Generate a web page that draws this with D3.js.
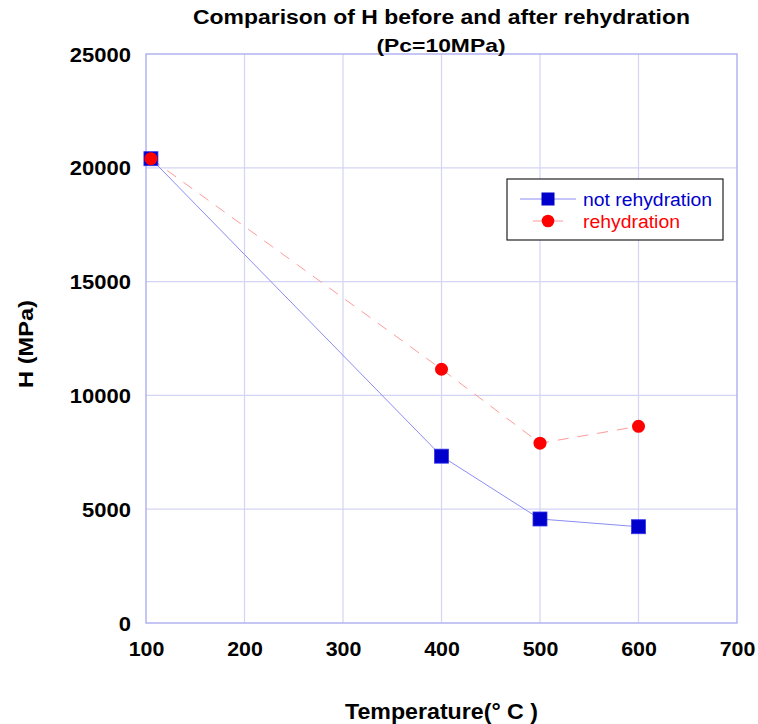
<!DOCTYPE html>
<html><head><meta charset="utf-8">
<script src="https://cdn.jsdelivr.net/npm/d3@7"></script>
<style>body{margin:0;background:#fff;} svg{display:block;font-family:"Liberation Sans",Arial,sans-serif;}</style>
</head><body>
<svg id="c" width="758" height="724"></svg>
<script>
const temps = [105, 400, 500, 600];
const notRehydration = [20400, 7330, 4570, 4230];
const rehydration = [20400, 11150, 7900, 8640];
const xTicks = [100, 200, 300, 400, 500, 600, 700];
const yTicks = [0, 5000, 10000, 15000, 20000, 25000];
const seriesNames = ["not rehydration", "rehydration"];

const svg = d3.select("#c");
const L = 146, R = 737, T = 54, B = 623;
const x = d3.scaleLinear().domain([100, 700]).range([L, R]);
const y = d3.scaleLinear().domain([0, 25000]).range([B, T]);
const gridC = "#d4d4f4", borderC = "#a8a8ee";

function stretch(sel, k) {
  sel.each(function() {
    const w = this.getComputedTextLength();
    d3.select(this).attr("textLength", w * k).attr("lengthAdjust", "spacingAndGlyphs");
  });
}
function fitW(sel, w) {
  sel.attr("textLength", w).attr("lengthAdjust", "spacingAndGlyphs");
}

// grid
svg.append("g").selectAll("line").data(xTicks.slice(1, -1)).join("line")
  .attr("x1", d => x(d)).attr("x2", d => x(d)).attr("y1", T).attr("y2", B)
  .attr("stroke", gridC).attr("stroke-width", 1.2);
svg.append("g").selectAll("line").data(yTicks.slice(1, -1)).join("line")
  .attr("y1", d => y(d)).attr("y2", d => y(d)).attr("x1", L).attr("x2", R)
  .attr("stroke", gridC).attr("stroke-width", 1.2);
svg.append("rect").attr("x", L).attr("y", T).attr("width", R - L).attr("height", B - T)
  .attr("fill", "none").attr("stroke", borderC).attr("stroke-width", 1.3);

// axes
const xa = svg.append("g").attr("transform", `translate(0,${B})`)
  .call(d3.axisBottom(x).tickValues(xTicks).tickSize(0).tickPadding(0).tickFormat(d3.format("d")));
const ya = svg.append("g").attr("transform", `translate(${L},0)`)
  .call(d3.axisLeft(y).tickValues(yTicks).tickSize(0).tickPadding(15).tickFormat(d3.format("d")));
[xa, ya].forEach(a => {
  a.select(".domain").remove();
  a.selectAll("text").attr("font-size", 20).attr("font-weight", "bold").attr("fill", "#000")
    .attr("font-family", "Liberation Sans, Arial, sans-serif");
});
xa.selectAll("text").attr("y", 0).attr("dy", 33);
ya.selectAll("text").attr("dy", 7);
stretch(xa.selectAll("text"), 1.07);
stretch(ya.selectAll("text"), 1.1);

// titles
fitW(svg.append("text").attr("x", 441.5).attr("y", 24).attr("text-anchor", "middle")
  .attr("font-size", 19.5).attr("font-weight", "bold").text("Comparison of H before and after rehydration"), 497);
fitW(svg.append("text").attr("x", 441).attr("y", 52).attr("text-anchor", "middle")
  .attr("font-size", 18.5).attr("font-weight", "bold").text("(Pc=10MPa)"), 129);
fitW(svg.append("text").attr("x", 441.5).attr("y", 719).attr("text-anchor", "middle")
  .attr("font-size", 21.5).attr("font-weight", "bold").text("Temperature(° C )"), 193);
fitW(svg.append("text").attr("transform", "translate(33,344) rotate(-90)").attr("text-anchor", "middle")
  .attr("font-size", 21).attr("font-weight", "bold").text("H (MPa)"), 88);

// series
const blueData = temps.map((t, i) => [t, notRehydration[i]]);
const redData = temps.map((t, i) => [t, rehydration[i]]);
const line = d3.line().x(d => x(d[0])).y(d => y(d[1]));
svg.append("path").attr("d", line(redData)).attr("fill", "none")
  .attr("stroke", "#ff9a9a").attr("stroke-width", 1).attr("stroke-dasharray", "11,9");
svg.append("path").attr("d", line(blueData)).attr("fill", "none")
  .attr("stroke", "#8c8cf4").attr("stroke-width", 1);
svg.append("g").selectAll("rect").data(blueData).join("rect")
  .attr("x", d => x(d[0]) - 7).attr("y", d => y(d[1]) - 7).attr("width", 14).attr("height", 14)
  .attr("fill", "#0000cc").attr("stroke", "#3333ee").attr("stroke-width", 0.8);
svg.append("g").selectAll("circle").data(redData).join("circle")
  .attr("cx", d => x(d[0])).attr("cy", d => y(d[1])).attr("r", 6.5).attr("fill", "#ff0000");

// legend
const lg = svg.append("g");
lg.append("rect").attr("x", 507).attr("y", 179).attr("width", 216).attr("height", 61)
  .attr("fill", "#fff").attr("stroke", "#222").attr("stroke-width", 1.2);
lg.append("line").attr("x1", 520).attr("x2", 576).attr("y1", 199).attr("y2", 199)
  .attr("stroke", "#8c8cf4").attr("stroke-width", 1);
lg.append("rect").attr("x", 548 - 6.5).attr("y", 199 - 6.5).attr("width", 13).attr("height", 13).attr("fill", "#0000cc");
fitW(lg.append("text").attr("x", 583).attr("y", 206).attr("font-size", 18).attr("fill", "#0000cc").text(seriesNames[0]), 129);
lg.append("line").attr("x1", 533).attr("x2", 572).attr("y1", 221).attr("y2", 221)
  .attr("stroke", "#ff9a9a").attr("stroke-width", 1).attr("stroke-dasharray", "9,12");
lg.append("circle").attr("cx", 548).attr("cy", 221).attr("r", 6.3).attr("fill", "#ff0000");
fitW(lg.append("text").attr("x", 583).attr("y", 227.5).attr("font-size", 18).attr("fill", "#ff0000").text(seriesNames[1]), 97);
</script>
</body></html>
